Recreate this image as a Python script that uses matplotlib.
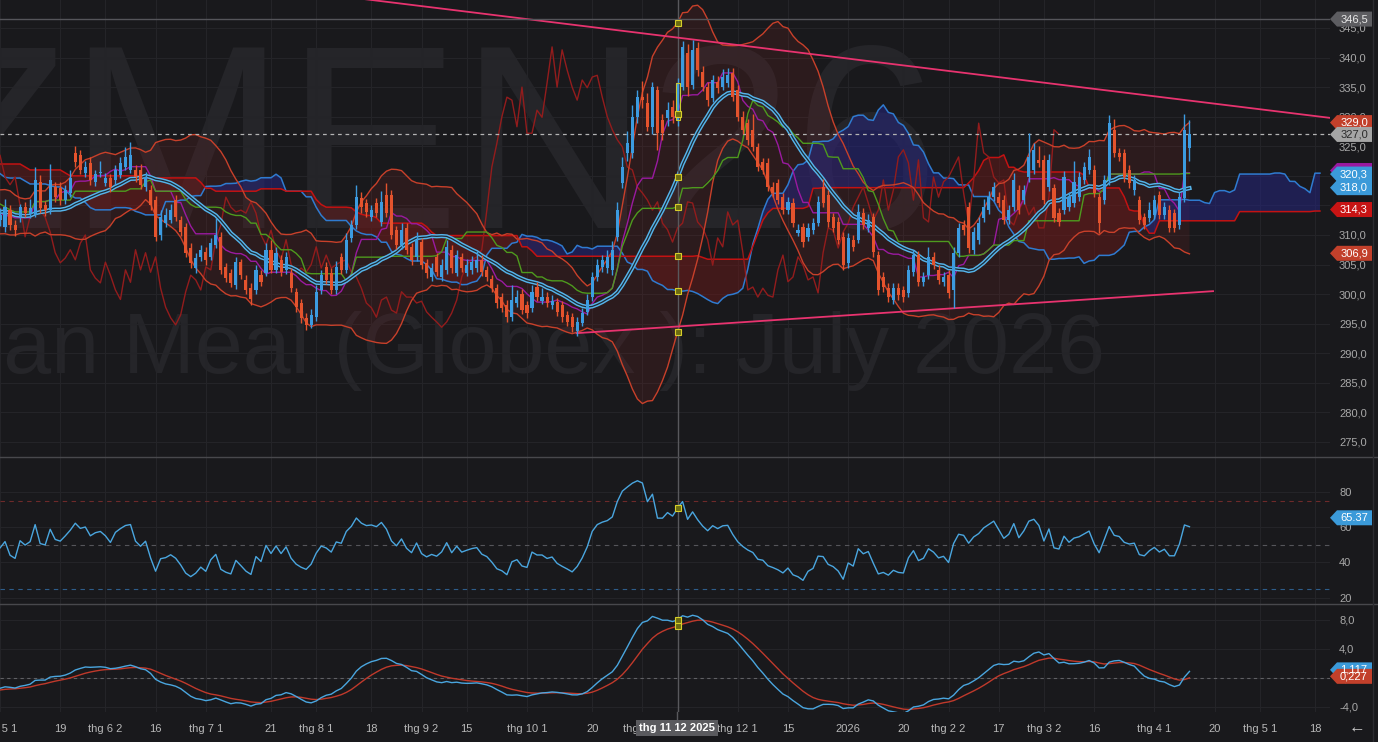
import matplotlib
matplotlib.use("Agg")
import matplotlib.pyplot as plt
import numpy as np
import pandas as pd
from matplotlib.patches import Polygon
from matplotlib.lines import Line2D

plt.rcParams["font.family"] = ["Liberation Sans", "DejaVu Sans"]

W, H = 1378, 742
BG = "#19191c"

# daily bars ZMN26, 1 May 2025 .. 13 Apr 2026
opens = [
    312.5, 311.4, 314.2, 311.7, 313.0, 314.7, 313.5, 313.4, 319.0, 315.0,
    314.2, 318.1, 317.9, 315.9, 317.1, 323.8, 323.5, 320.5, 322.2, 319.0,
    320.5, 318.8, 319.7, 319.3, 320.1, 321.5, 321.0, 321.0, 321.0, 318.1,
    317.6, 315.9, 310.0, 312.0, 312.5, 315.9, 312.5, 311.3, 307.8, 304.4,
    306.3, 307.1, 306.3, 308.3, 309.7, 304.6, 303.6, 301.6, 305.4, 302.4,
    301.0, 300.7, 303.2, 303.6, 307.5, 304.1, 305.8, 304.1, 303.6, 300.4,
    298.5, 296.0, 294.8, 296.1, 300.7, 304.6, 303.6, 300.7, 306.3, 304.1,
    309.5, 311.7, 316.2, 315.4, 313.0, 315.4, 312.2, 316.8, 316.8, 310.8,
    308.3, 311.2, 308.0, 306.3, 308.8, 305.3, 302.9, 306.3, 302.9, 304.1,
    307.5, 303.6, 306.3, 303.6, 304.1, 304.4, 305.8, 304.1, 302.6, 301.0,
    299.5, 298.2, 296.1, 298.5, 300.0, 298.2, 297.7, 301.2, 298.9, 299.5,
    298.2, 298.7, 298.2, 296.5, 296.1, 293.7, 295.2, 297.0, 299.5, 302.9,
    304.6, 304.4, 304.1, 309.7, 318.8, 323.9, 323.9, 330.0, 333.3, 332.3,
    328.3, 334.5, 329.4, 329.8, 331.6, 329.4, 335.0, 340.8, 335.4, 341.6,
    337.6, 335.0, 333.2, 335.9, 335.0, 335.7, 337.4, 334.5, 330.0, 328.9,
    327.8, 324.9, 322.3, 322.2, 318.1, 318.8, 316.4, 314.2, 315.4, 310.4,
    311.4, 309.7, 310.9, 312.1, 318.1, 316.8, 313.0, 312.2, 309.7, 305.3,
    309.2, 309.2, 313.7, 311.2, 313.0, 306.6, 302.9, 301.0, 299.0, 301.0,
    300.7, 300.2, 303.7, 306.6, 302.1, 303.2, 306.3, 304.1, 302.1, 303.2,
    300.7, 307.0, 311.7, 314.7, 307.5, 309.2, 312.9, 314.2, 316.4, 316.4,
    315.9, 312.5, 314.7, 317.6, 315.9, 319.8, 321.0, 322.7, 322.7, 318.1,
    317.9, 313.7, 314.2, 314.7, 315.4, 316.4, 319.3, 321.0, 321.0, 316.4,
    315.9, 319.3, 327.8, 323.9, 323.9, 321.0, 317.6, 315.9, 313.0, 312.9,
    313.4, 316.8, 313.4, 314.2, 313.7, 311.7, 316.2, 324.7,
]
highs = [
    314.5, 316.0, 315.0, 312.5, 315.3, 315.5, 316.0, 321.5, 320.2, 315.8,
    322.0, 319.0, 319.0, 318.5, 321.0, 325.0, 324.3, 322.5, 323.2, 321.0,
    322.5, 320.5, 320.3, 321.8, 323.2, 324.8, 325.8, 321.8, 322.0, 320.6,
    318.5, 316.6, 314.2, 314.5, 315.2, 316.8, 313.2, 312.0, 308.6, 307.0,
    308.3, 308.0, 309.5, 312.9, 310.5, 305.3, 304.3, 306.3, 306.0, 303.2,
    301.8, 305.0, 304.0, 308.6, 309.2, 308.0, 306.6, 307.2, 304.4, 301.0,
    299.2, 296.8, 297.5, 301.5, 304.0, 305.5, 304.5, 305.6, 307.0, 310.3,
    312.6, 318.5, 317.3, 316.0, 315.0, 316.2, 317.5, 318.8, 317.6, 311.6,
    312.0, 312.0, 308.7, 310.5, 309.5, 306.0, 305.2, 307.0, 306.0, 309.2,
    308.3, 307.5, 307.0, 306.0, 306.5, 307.3, 306.6, 304.8, 303.3, 301.7,
    300.2, 299.0, 301.6, 300.7, 300.8, 298.9, 301.5, 302.0, 301.0, 300.3,
    299.8, 299.4, 298.9, 297.2, 296.8, 296.2, 297.6, 300.0, 303.8, 306.0,
    306.6, 307.5, 309.0, 315.5, 323.2, 327.5, 332.0, 334.5, 336.0, 334.0,
    335.8, 335.2, 330.5, 332.5, 332.8, 336.6, 342.8, 342.3, 343.0, 342.6,
    338.5, 335.8, 337.0, 336.8, 338.0, 338.2, 338.3, 335.3, 330.9, 329.6,
    330.5, 325.6, 323.0, 323.0, 318.9, 319.5, 317.1, 316.5, 316.2, 311.8,
    312.1, 312.0, 312.9, 316.6, 319.5, 317.6, 313.8, 313.0, 310.5, 310.3,
    310.0, 315.2, 314.5, 313.5, 313.8, 307.3, 303.7, 301.8, 301.8, 301.9,
    301.4, 305.0, 307.5, 307.3, 303.8, 308.0, 307.2, 305.0, 303.8, 304.0,
    308.0, 312.0, 312.5, 315.5, 311.4, 313.0, 316.0, 317.4, 319.0, 317.2,
    316.7, 315.0, 320.5, 318.4, 318.5, 327.2, 325.6, 325.0, 323.5, 323.7,
    318.7, 314.5, 320.8, 317.3, 322.5, 320.6, 322.3, 324.5, 321.8, 317.1,
    320.1, 330.3, 329.6, 324.7, 324.6, 321.8, 320.2, 316.6, 313.8, 315.5,
    316.7, 317.5, 315.5, 315.0, 314.4, 317.2, 330.5, 329.5,
]
lows = [
    311.5, 310.5, 310.8, 309.8, 312.2, 313.0, 312.8, 313.0, 313.8, 313.2,
    313.5, 315.5, 315.0, 315.2, 316.5, 321.5, 320.3, 319.8, 318.5, 318.3,
    319.8, 318.2, 317.3, 318.5, 319.6, 321.0, 320.5, 319.0, 317.8, 317.5,
    314.2, 309.0, 309.2, 311.3, 312.0, 312.4, 309.8, 306.2, 304.5, 303.6,
    305.6, 305.0, 305.8, 307.8, 303.4, 302.0, 301.2, 300.8, 302.5, 300.0,
    298.2, 300.0, 301.4, 303.0, 303.5, 303.5, 303.0, 303.4, 300.3, 297.0,
    295.2, 294.0, 294.2, 295.5, 300.0, 301.7, 300.0, 300.0, 303.4, 303.5,
    308.8, 311.0, 313.8, 313.1, 312.3, 313.0, 311.5, 313.0, 309.3, 307.6,
    307.6, 306.8, 305.0, 305.6, 304.2, 302.8, 302.2, 303.0, 302.2, 303.4,
    303.6, 303.0, 303.8, 303.0, 303.4, 303.8, 303.0, 302.2, 300.3, 297.7,
    297.0, 295.3, 295.5, 297.8, 296.6, 296.0, 297.0, 298.8, 298.3, 297.8,
    297.5, 296.3, 295.3, 294.6, 293.6, 293.0, 294.6, 296.4, 298.8, 302.2,
    303.8, 303.6, 303.2, 309.0, 318.0, 322.5, 323.0, 329.0, 331.5, 327.5,
    327.0, 324.4, 326.0, 328.5, 329.0, 328.5, 334.5, 333.5, 334.6, 336.8,
    334.3, 331.8, 332.4, 334.0, 334.5, 335.0, 332.6, 329.2, 327.0, 325.2,
    324.2, 320.8, 320.3, 317.4, 316.4, 315.2, 313.5, 313.5, 311.3, 309.8,
    308.0, 309.0, 310.2, 311.5, 314.7, 311.4, 310.5, 308.4, 304.1, 304.5,
    307.3, 308.6, 311.0, 310.5, 306.3, 299.9, 300.4, 298.7, 298.3, 299.0,
    298.6, 299.5, 303.0, 301.3, 301.4, 302.5, 304.2, 301.7, 301.4, 299.4,
    297.6, 306.3, 310.0, 307.0, 306.8, 308.5, 312.2, 313.5, 315.7, 314.7,
    311.8, 311.8, 314.0, 313.5, 315.2, 319.0, 320.3, 321.5, 315.2, 317.4,
    312.2, 311.5, 313.5, 314.0, 314.7, 315.7, 318.6, 320.3, 316.4, 310.3,
    315.2, 318.5, 323.1, 322.5, 319.0, 318.0, 316.8, 311.8, 311.0, 312.2,
    312.7, 312.7, 312.7, 310.5, 310.5, 311.0, 315.5, 322.5,
]
closes = [
    313.4, 314.7, 311.7, 310.9, 314.7, 313.7, 314.5, 319.3, 314.6, 314.2,
    319.3, 316.4, 315.9, 317.6, 319.6, 322.3, 321.0, 321.5, 319.3, 320.3,
    320.7, 319.7, 318.1, 321.0, 322.2, 323.2, 323.5, 319.8, 318.5, 319.8,
    315.0, 309.7, 313.1, 313.4, 314.2, 313.0, 310.5, 307.0, 305.3, 306.1,
    307.5, 305.8, 308.6, 310.0, 304.1, 302.7, 301.9, 305.4, 303.2, 300.7,
    299.1, 304.1, 302.0, 307.5, 304.1, 307.0, 303.7, 306.3, 301.0, 297.8,
    296.0, 294.8, 296.5, 300.4, 303.2, 302.4, 300.7, 304.6, 304.1, 309.2,
    311.7, 316.4, 314.7, 313.9, 314.2, 313.7, 315.6, 313.7, 310.0, 308.3,
    310.8, 307.5, 305.8, 309.2, 305.0, 303.6, 304.4, 303.7, 305.0, 308.0,
    304.4, 306.6, 304.4, 305.0, 305.5, 305.8, 303.7, 302.9, 301.0, 298.5,
    297.7, 296.1, 299.0, 299.5, 297.3, 296.8, 300.4, 299.5, 299.5, 298.5,
    298.8, 297.0, 296.1, 295.3, 294.4, 295.3, 296.8, 299.0, 302.9, 305.0,
    305.8, 306.3, 307.5, 314.2, 321.5, 325.5, 330.0, 333.3, 332.8, 328.3,
    335.0, 327.2, 327.2, 331.1, 329.9, 335.7, 341.8, 335.0, 341.3, 337.9,
    335.0, 332.8, 336.2, 334.9, 336.7, 337.0, 333.3, 330.0, 327.8, 326.1,
    324.9, 321.5, 321.0, 318.1, 317.1, 315.9, 314.2, 315.6, 312.0, 310.9,
    308.8, 311.2, 312.0, 315.6, 315.4, 312.2, 311.2, 309.2, 304.9, 309.5,
    308.0, 313.9, 311.7, 312.5, 307.1, 300.7, 301.2, 299.5, 301.0, 299.8,
    299.5, 304.1, 306.6, 302.1, 302.9, 306.3, 304.9, 302.4, 302.9, 300.2,
    307.0, 311.2, 310.8, 307.8, 310.5, 312.0, 314.7, 316.4, 318.1, 315.4,
    312.5, 314.2, 319.3, 314.2, 317.6, 323.2, 324.4, 322.2, 315.9, 322.7,
    312.9, 312.2, 319.8, 316.4, 319.0, 319.8, 321.5, 323.2, 317.1, 312.0,
    319.3, 328.9, 323.9, 323.2, 319.8, 318.8, 319.3, 312.5, 311.7, 314.2,
    315.9, 313.4, 314.7, 311.2, 311.2, 316.4, 327.8, 327.0,
]

# closes before 1 May 2025 (off screen), estimated so the indicators start as drawn
warmup = [
    325.5, 327.0, 329.5, 328.0, 325.0, 326.0, 323.0, 320.5, 318.5, 317.0,
    318.0, 316.0, 314.5, 316.5, 318.5, 320.0, 319.0, 317.0, 315.5, 313.5,
    312.5, 314.0, 316.0, 318.0, 317.0, 315.0, 313.0, 311.5, 310.5, 312.0,
    314.0, 315.5, 316.0, 314.5, 313.5, 312.5, 314.0, 313.0, 312.0, 312.8,
]

holidays = ["2025-05-26", "2025-06-19", "2025-07-04", "2025-09-01", "2025-11-27",
            "2025-12-25", "2026-01-01", "2026-01-19", "2026-02-16", "2026-04-03",
            "2026-05-25"]

tick_dates = ["2025-05-01", "2025-05-19", "2025-06-02", "2025-06-16", "2025-07-01",
              "2025-07-21", "2025-08-01", "2025-08-18", "2025-09-02", "2025-09-15",
              "2025-10-01", "2025-10-20", "2025-11-03", "2025-12-01", "2025-12-15",
              "2026-01-02", "2026-01-20", "2026-02-02", "2026-02-17", "2026-03-02",
              "2026-03-16", "2026-04-01", "2026-04-20", "2026-05-01", "2026-05-18"]
tick_labels = ["thg 5 1", "19", "thg 6 2", "16", "thg 7 1", "21", "thg 8 1", "18",
               "thg 9 2", "15", "thg 10 1", "20", "thg 11 3", "thg 12 1", "15", "2026",
               "20", "thg 2 2", "17", "thg 3 2", "16", "thg 4 1", "20", "thg 5 1", "18"]

cross_date = "2025-11-12"
cross_label = "thg 11 12 2025"
cross_price = 346.5

# trend lines (bar index, price)
upper_trend_x = [60, 265]
upper_trend_y = [351.2, 329.8]
lower_trend_x = [114.9, 241.7]
lower_trend_y = [293.4, 300.5]

price_tags = [(346.5, "346,5", "#5d5d61", "#e8e8e8"),
              (329.0, "329,0", "#c2402b", "#ffffff"),
              (327.0, "327,0", "#a5a5a5", "#2a2a2a"),
              (320.3, "320,3", "#3b9ad9", "#ffffff"),
              (318.0, "318,0", "#3b9ad9", "#ffffff"),
              (314.3, "314,3", "#c81414", "#ffffff"),
              (306.9, "306,9", "#c2402b", "#ffffff")]
rsi_tags = [(65.37, "65.37", "#3b9ad9", "#ffffff")]
macd_tags = [(1.117, "1,117", "#3b9ad9", "#ffffff"),
             (0.227, "0,227", "#c2402b", "#ffffff")]

# ---- calendar / indicators ----
days = pd.bdate_range("2025-05-01", "2026-06-30")
days = days[~days.isin(pd.to_datetime(holidays))]
tick_idx = days.get_indexer(pd.to_datetime(tick_dates))
cross_idx = days.get_loc(pd.Timestamp(cross_date))

o = np.array(opens)
h = np.array(highs)
l = np.array(lows)
c = np.array(closes)
xb = np.arange(len(c))

n_pre = len(warmup)
cs = pd.Series(warmup + closes)
hs = pd.Series(warmup + highs)
ls = pd.Series(warmup + lows)
xa = np.arange(len(cs)) - n_pre

sma = cs.rolling(20, min_periods=1).mean()
sd = cs.rolling(20, min_periods=1).std(ddof=0)
bb_up = sma + 2 * sd
bb_lo = sma - 2 * sd


def midline(n):
    return (hs.rolling(n, min_periods=1).max() + ls.rolling(n, min_periods=1).min()) / 2


tenkan = midline(9)
kijun = midline(26)
span_a = (tenkan + kijun) / 2
span_b = midline(52)

d = cs.diff()
gain = d.clip(lower=0).ewm(alpha=1 / 14, adjust=False).mean()
loss = (-d.clip(upper=0)).ewm(alpha=1 / 14, adjust=False).mean()
rsi = 100 - 100 / (1 + gain / loss)

macd = cs.ewm(span=12, adjust=False).mean() - cs.ewm(span=26, adjust=False).mean()
signal = macd.ewm(span=9, adjust=False).mean()

# ---- figure ----
fig = plt.figure(figsize=(W / 100, H / 100), dpi=100, facecolor=BG)
X0, X1 = 0.557, 265.0


def panel(top, bottom):
    ax = fig.add_axes([0, 1 - bottom / H, 1330 / W, (bottom - top) / H])
    ax.set_facecolor("none")
    for sp in ax.spines.values():
        sp.set_visible(False)
    ax.yaxis.tick_right()
    ax.tick_params(length=0, labelsize=8, labelcolor="#a8a8a8")
    ax.tick_params(axis="y", pad=6.5)
    ax.set_xlim(X0, X1)
    ax.set_xticks(tick_idx)
    ax.grid(True, color="#242428", lw=0.8)
    ax.set_axisbelow(True)
    return ax


ax = panel(0, 457)
ax_r = panel(457, 604)
ax_m = panel(604, 712)

# watermark
fig.text(940 / W, 1 - 228 / H, "ZMEN26", ha="right", va="baseline",
         fontsize=188, color="#252529", zorder=-1)
fig.text(1105 / W, 1 - 373 / H, "Soybean Meal (Globex ): July 2026", ha="right",
         va="baseline", fontsize=62, color="#252529", zorder=-1)

# main panel
ax.set_ylim(272.46, 349.73)
ax.set_yticks(np.arange(275, 346, 5))
ax.set_yticklabels([f"{v:.1f}".replace(".", ",") for v in np.arange(275, 346, 5)])
ax.tick_params(labelbottom=False)

ax.fill_between(xa, bb_lo, bb_up, color="#7a2424", alpha=0.2, lw=0, zorder=1)
xs = xa + 26
ax.fill_between(xs, span_a, span_b, where=span_a >= span_b, interpolate=True,
                color="#25257e", alpha=0.55, lw=0, zorder=1)
ax.fill_between(xs, span_a, span_b, where=span_a < span_b, interpolate=True,
                color="#6a1a1a", alpha=0.5, lw=0, zorder=1)
ax.plot(xs, span_a, color="#2f7bd0", lw=1.1, zorder=2)
ax.plot(xs, span_b, color="#c41212", lw=1.1, zorder=2)
ax.plot(xa - 26, cs, color="#931c1c", lw=1, zorder=2)
ax.plot(xa, bb_up, color="#c8402a", lw=1, zorder=2)
ax.plot(xa, bb_lo, color="#c8402a", lw=1, zorder=2)
ax.plot(xa, tenkan, color="#9a1aa0", lw=1, zorder=2)
ax.plot(xa, kijun, color="#4e9a1e", lw=1, zorder=2)
ax.plot(xa, sma, color="#55b4ea", lw=3.0, zorder=2.2)
ax.plot(xa, sma, color="#1d2833", lw=0.9, zorder=2.3)

ax.plot(upper_trend_x, upper_trend_y, color="#e8336f", lw=1.3, zorder=2.5)
ax.plot(lower_trend_x, lower_trend_y, color="#e8336f", lw=1.3, zorder=2.5)
ax.axhline(c[-1], color="#b4b4b4", lw=0.9, dashes=(3, 3), zorder=2.5)
ax.axhline(cross_price, color="#55555a", lw=1, zorder=2.5)

up = c >= o
col = np.where(up, "#3c9be0", "#e4532d")
ax.vlines(xb, l, h, colors=col, lw=1, zorder=3)
ax.bar(xb, np.maximum(np.abs(c - o), 0.12), bottom=np.minimum(o, c), width=0.62,
       color=col, lw=0, zorder=3.1)
ax.bar([cross_idx], [abs(c[cross_idx] - o[cross_idx])], bottom=[min(o[cross_idx], c[cross_idx])],
       width=0.8, facecolor="none", edgecolor="#c8c832", lw=0.8, zorder=3.2)

# rsi panel
ax_r.set_ylim(16.4, 99.9)
ax_r.set_yticks([20, 40, 60, 80])
ax_r.tick_params(labelbottom=False)
ax_r.axhline(75, color="#6e2a2a", lw=0.8, dashes=(4, 4))
ax_r.axhline(50, color="#55555a", lw=0.8, dashes=(4, 4))
ax_r.axhline(25, color="#2d5d8a", lw=0.8, dashes=(4, 4))
ax_r.plot(xa, rsi, color="#4aa6df", lw=1, zorder=3)

# macd panel
ax_m.set_ylim(-4.69, 10.2)
ax_m.set_yticks([-4, 0, 4, 8])
ax_m.set_yticklabels([f"{v:.1f}".replace(".", ",") for v in [-4, 0, 4, 8]])
ax_m.axhline(0, color="#606064", lw=0.8, dashes=(3, 3))
ax_m.plot(xa, signal, color="#c0392b", lw=1, zorder=3)
ax_m.plot(xa, macd, color="#4aa6df", lw=1, zorder=3)
ax_m.set_xticklabels(tick_labels)
ax_m.tick_params(axis="x", pad=9, labelsize=8, labelcolor="#b8b8b8")

# crosshair
i0 = cross_idx + n_pre
mk = dict(marker="s", ms=4, mfc="#6b6b12", mec="#d8cf2a", mew=0.8, ls="none", zorder=4)
for a in (ax, ax_r, ax_m):
    a.axvline(cross_idx, color="#58585c", lw=1, zorder=2.4)
ax.plot([cross_idx] * 7, [bb_up[i0], bb_lo[i0], tenkan[i0], kijun[i0], sma[i0],
                          span_a[i0 - 26], span_b[i0 - 26]], **mk)
ax_r.plot([cross_idx], [rsi[i0]], **mk)
ax_m.plot([cross_idx] * 2, [macd[i0], signal[i0]], **mk)
fig.add_artist(Line2D([677 / W] * 2, [1 - 712 / H, 1 - 720 / H], transform=fig.transFigure,
                      color="#58585c", lw=1))
fig.text(677 / W, 1 - 728 / H, cross_label, ha="center", va="center", fontsize=8,
         color="#ffffff", fontweight="bold", zorder=6,
         bbox=dict(boxstyle="square,pad=0.3", fc="#5a5a5e", ec="none"))
fig.text(1357 / W, 1 - 728 / H, "←", ha="center", va="center", fontsize=12,
         color="#d0d0d0", zorder=6)

# separators
for yy in (457, 604):
    fig.add_artist(Line2D([0, 1], [1 - yy / H] * 2, transform=fig.transFigure,
                          color="#48484c", lw=1))
fig.add_artist(Line2D([1373 / W] * 2, [0, 1], transform=fig.transFigure, color="#2c2c30", lw=1))


def tag(a, v, text, bg, fg):
    yc = H - a.transData.transform((0, v))[1]
    pts = [(1330, yc), (1337, yc - 7.5), (1372, yc - 7.5), (1372, yc + 7.5), (1337, yc + 7.5)]
    fig.add_artist(Polygon([(x / W, 1 - y / H) for x, y in pts], closed=True,
                           transform=fig.transFigure, facecolor=bg, edgecolor="none", zorder=5))
    fig.text(1354 / W, 1 - yc / H, text, ha="center", va="center", fontsize=8,
             color=fg, zorder=6)


tag(ax, 320.9, "", "#9a1aa0", "#ffffff")
for v, t, bgc, fgc in price_tags:
    tag(ax, v, t, bgc, fgc)
for v, t, bgc, fgc in rsi_tags:
    tag(ax_r, v, t, bgc, fgc)
for v, t, bgc, fgc in macd_tags:
    tag(ax_m, v, t, bgc, fgc)

fig.savefig("out.png", dpi=100, facecolor=BG)
